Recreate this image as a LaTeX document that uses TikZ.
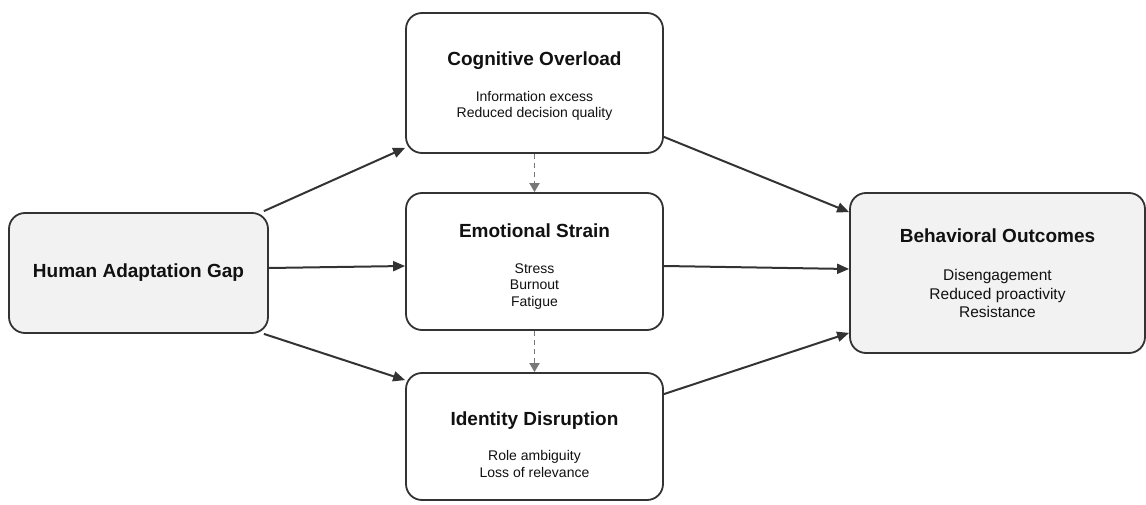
\documentclass[tikz,border=0pt]{standalone}
\usepackage{fontspec}
\setmainfont{Liberation Sans}
\usepackage{tikz}
\usepackage{xcolor}
\usetikzlibrary{arrows.meta,positioning,shapes,calc}
\definecolor{ink}{HTML}{333333}
\definecolor{textink}{HTML}{111111}
\definecolor{dashgray}{HTML}{777777}
\definecolor{cardgray}{HTML}{F2F2F2}
\newcommand{\cardtitle}[2][0pt]{{\fontsize{19}{23}\selectfont\bfseries\rule{0pt}{#1}#2}}
\tikzset{
  graycard/.style={
    draw=ink, fill=cardgray, line width=1.8pt, rounded corners=16pt,
    align=center, inner sep=0pt, text=textink,
    font=\fontsize{15.5}{18.5}\selectfont
  },
  whitecard/.style={
    draw=ink, fill=white, line width=1.8pt, rounded corners=16pt,
    align=center, inner sep=0pt, text=textink,
    font=\fontsize{14}{16.5}\selectfont
  },
  flow/.style={draw=ink, line width=2pt, -{Triangle[length=12pt,width=10pt]}},
  chain/.style={draw=dashgray, line width=1.8pt, dash pattern=on 5pt off 4pt,
    -{Triangle[length=9pt,width=10pt]}}
}

\begin{document}
\begin{tikzpicture}[x=1pt,y=1pt]
  \useasboundingbox (0,0) rectangle (1146,504);

  % cause
  \node[graycard,minimum width=259,minimum height=120] (hag) at (138.5,231) {\cardtitle{Human Adaptation Gap}};

  % mediating strains
  \node[whitecard,minimum width=257,minimum height=140] (co) at (534.5,421)
    {\cardtitle[20pt]{Cognitive Overload}\\[19pt]Information excess\\Reduced decision quality};
  \node[whitecard,minimum width=257,minimum height=137] (es) at (534.5,242.5)
    {\cardtitle[24pt]{Emotional Strain}\\[19pt]Stress\\Burnout\\Fatigue};
  \node[whitecard,minimum width=257,minimum height=127] (id) at (534.5,67.5)
    {\cardtitle[30pt]{Identity Disruption}\\[19pt]Role ambiguity\\Loss of relevance};

  % outcome
  \node[graycard,minimum width=295,minimum height=160] (bo) at (997.5,231)
    {\cardtitle{Behavioral Outcomes}\\[20pt]Disengagement\\Reduced proactivity\\Resistance};

  \draw[flow] ($(hag.north east)+(-5,1)$) -- ($(co.south west)+(0,6)$);
  \draw[flow] ($(hag.east)+(0,5)$) -- ($(es.west)+(0,-4.5)$);
  \draw[flow] ($(hag.south east)+(-5,0)$) -- ($(id.north west)+(0,-8)$);

  \draw[flow] ($(co.south east)+(0,17)$) -- ($(bo.north west)+(0,-20)$);
  \draw[flow] ($(es.east)+(0,-4.5)$) -- ($(bo.west)+(0,4)$);
  \draw[flow] ($(id.north east)+(0,-22)$) -- ($(bo.south west)+(0,21)$);

  \draw[chain] (co.south) -- (es.north);
  \draw[chain] (es.south) -- (id.north);
\end{tikzpicture}
\end{document}
